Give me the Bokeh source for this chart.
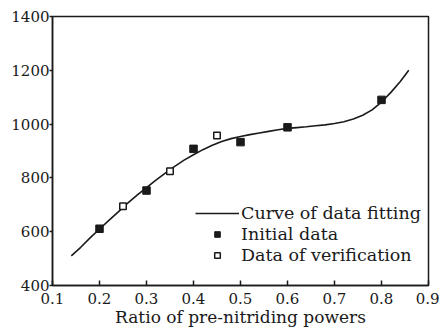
from bokeh.plotting import figure
from bokeh.models import ColumnDataSource, Legend, LegendItem, Range1d, FixedTicker
from bokeh.embed import file_html
from bokeh.resources import INLINE

# Fitted curve
curve_x = [0.14, 0.16, 0.18, 0.20, 0.22, 0.24, 0.26, 0.28, 0.30, 0.32, 0.34, 0.36,
           0.38, 0.40, 0.42, 0.44, 0.46, 0.48, 0.50, 0.52, 0.54, 0.56, 0.58, 0.60,
           0.62, 0.64, 0.66, 0.68, 0.70, 0.72, 0.74, 0.76, 0.78, 0.80, 0.82, 0.84, 0.858]
curve_y = [510, 542, 577, 610, 642, 674, 706, 736, 764, 792, 818, 843,
           866, 886, 905, 921, 935, 946, 954, 961, 967, 973, 979, 984,
           987, 990, 994, 997, 1002, 1009, 1019, 1033, 1053, 1082, 1118, 1158, 1200]

# Initial data (filled squares)
init_x = [0.2, 0.3, 0.4, 0.5, 0.6, 0.8]
init_y = [611, 753, 908, 933, 988, 1090]

# Data of verification (open squares)
ver_x = [0.25, 0.35, 0.45]
ver_y = [695, 825, 958]

x_ticks = [0.1, 0.2, 0.3, 0.4, 0.5, 0.6, 0.7, 0.8, 0.9]
y_ticks = [400, 600, 800, 1000, 1200, 1400]

FONT = "DejaVu Serif"
INK = "#1a1a1a"

p = figure(width=439, height=331, output_backend="svg", toolbar_location=None,
           x_range=Range1d(0.1, 0.9), y_range=Range1d(400, 1400),
           min_border_left=52, min_border_right=11, min_border_top=16, min_border_bottom=46)
p.xgrid.visible = False
p.ygrid.visible = False
p.outline_line_color = INK
p.outline_line_width = 1.5
p.background_fill_color = "white"
p.border_fill_color = "white"

line = p.line(curve_x, curve_y, line_color=INK, line_width=1.6)
src_i = ColumnDataSource(dict(x=init_x, y=init_y))
src_v = ColumnDataSource(dict(x=ver_x, y=ver_y))
r_i = p.scatter("x", "y", source=src_i, marker="square", size=7.5,
                fill_color=INK, line_color=INK, line_width=1)
r_v = p.scatter("x", "y", source=src_v, marker="square", size=6.5,
                fill_color="white", line_color=INK, line_width=1.5)

for ax in (p.xaxis[0], p.yaxis[0]):
    ax.axis_line_color = INK
    ax.axis_line_width = 1.5
    ax.major_tick_line_color = INK
    ax.major_tick_line_width = 1.5
    ax.minor_tick_line_color = None
    ax.major_label_text_font = FONT
    ax.major_label_text_font_size = "15px"
    ax.major_label_text_color = INK

p.xaxis.ticker = FixedTicker(ticks=x_ticks)
p.yaxis.ticker = FixedTicker(ticks=y_ticks)
p.xaxis.major_tick_in = 5
p.xaxis.major_tick_out = 0
p.xaxis.major_label_standoff = 7
p.yaxis.major_tick_in = 0
p.yaxis.major_tick_out = 3
p.yaxis.major_label_standoff = 0

p.xaxis.axis_label = "Ratio of pre-nitriding powers"
p.xaxis.axis_label_text_font = FONT
p.xaxis.axis_label_text_font_size = "17px"
p.xaxis.axis_label_text_font_style = "normal"
p.xaxis.axis_label_text_color = INK
p.xaxis.axis_label_standoff = 0

legend = Legend(items=[
    LegendItem(label="Curve of data fitting", renderers=[line]),
    LegendItem(label="Initial data", renderers=[r_i]),
    LegendItem(label="Data of verification", renderers=[r_v]),
], location=(143, 20))
legend.padding = 0
legend.margin = 0
legend.spacing = 0
legend.border_line_alpha = 0
legend.background_fill_alpha = 0
legend.glyph_width = 44
legend.glyph_height = 14
legend.label_height = 21
legend.label_standoff = 2
legend.label_text_font = FONT
legend.label_text_font_size = "17.5px"
legend.label_text_color = INK
p.add_layout(legend, "center")

open("out.html", "w").write(file_html(p, INLINE))
